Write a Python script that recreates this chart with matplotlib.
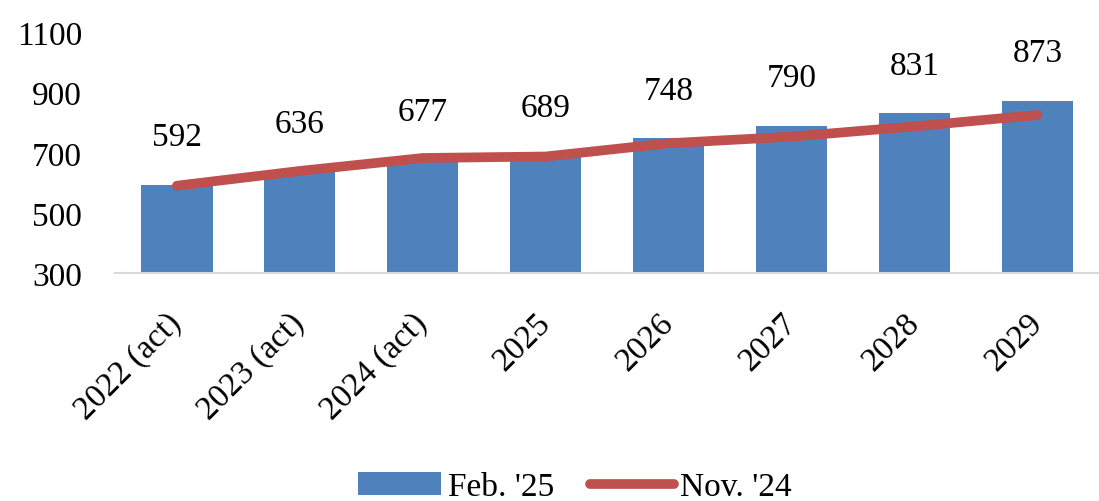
import matplotlib.pyplot as plt
import numpy as np

plt.rcParams['font.family'] = ['Liberation Serif', 'DejaVu Serif']

# data
categories = ['2022 (act)', '2023 (act)', '2024 (act)', '2025', '2026', '2027', '2028', '2029']
feb25 = [592, 636, 677, 689, 748, 790, 831, 873]
nov24 = [591, 640, 683, 688, 732, 754, 788, 826]
yticks = [300, 500, 700, 900, 1100]

blue = '#4F81BD'
red = '#C0504D'
fs = 24

fig = plt.figure(figsize=(10.99, 5.02), dpi=100)
ax = fig.add_axes([0.105, 0.4536, 0.895, 0.4797])

x = np.arange(len(categories))
bars = ax.bar(x, np.array(feb25) - 300, bottom=300, width=0.58, color=blue,
              label="Feb. '25", zorder=2)
line, = ax.plot(x, nov24, color=red, linewidth=7, solid_capstyle='round',
                label="Nov. '24", zorder=3)

# labels above bars
for xi, v in zip(x, feb25):
    ax.text(xi, v + 160, f'{v}', ha='center', va='center', fontsize=fs, color='black')

ax.set_xlim(-0.5, len(categories) - 0.5)
ax.set_ylim(300, 1100)
ax.set_yticks(yticks)
ax.set_yticklabels([str(t) for t in yticks], fontsize=fs)
ax.set_xticks(x)
ax.set_xticklabels(categories, fontsize=fs, rotation=45, ha='right', va='center',
                   rotation_mode='anchor')
ax.tick_params(axis='x', length=0, pad=32)
ax.tick_params(axis='y', length=0, pad=24)

for s in ['top', 'right', 'left']:
    ax.spines[s].set_visible(False)
ax.spines['bottom'].set_color('#D9D9D9')
ax.spines['bottom'].set_linewidth(1.5)

fig.legend([bars, line], ["Feb. '25", "Nov. '24"], loc='center',
           bbox_to_anchor=(0.523, 0.028), ncol=2, frameon=False,
           fontsize=fs, handlelength=2.5, handletextpad=0.2, columnspacing=1.1)

fig.savefig('out.png', dpi=100)
